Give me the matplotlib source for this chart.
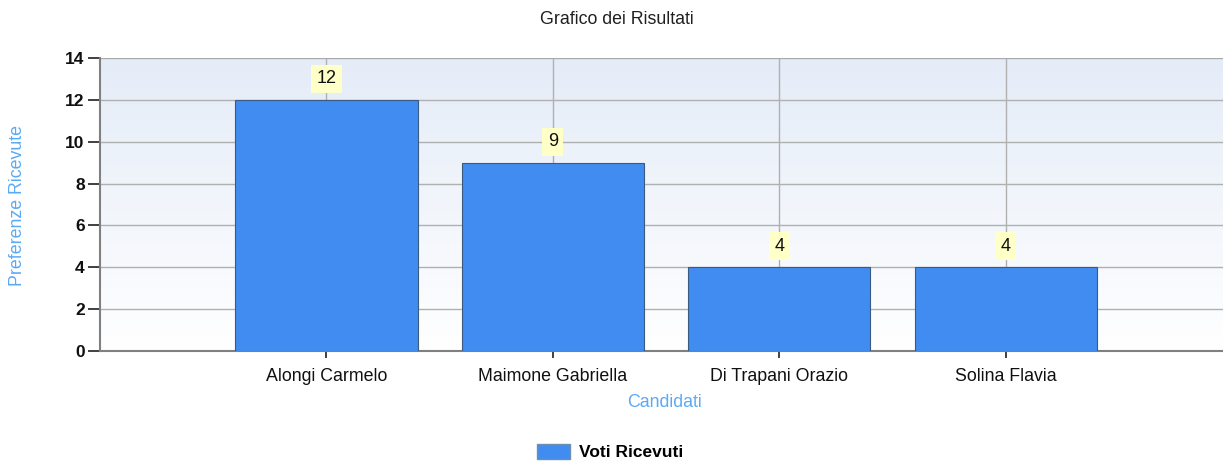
import matplotlib
matplotlib.use("Agg")
import matplotlib.pyplot as plt
import numpy as np
from matplotlib.patches import Patch

categories = ["Alongi Carmelo", "Maimone Gabriella", "Di Trapani Orazio", "Solina Flavia"]
values = [12, 9, 4, 4]
yticks = [0, 2, 4, 6, 8, 10, 12, 14]

plt.rcParams['font.family'] = ['Liberation Sans', 'DejaVu Sans']

W, H = 1223, 461
fig = plt.figure(figsize=(W / 100, H / 100), dpi=100)
ax = fig.add_axes([100 / W, 110 / H, (W - 100) / W, 293 / H])

# gradient background
grad = np.linspace(0, 1, 256).reshape(-1, 1)
top = np.array([0xE4, 0xEC, 0xF8]) / 255
bot = np.array([1.0, 1.0, 1.0])
img = top[None, None, :] * (1 - grad[:, :, None]) + bot[None, None, :] * grad[:, :, None]
ax.imshow(img, extent=[0, 1, 0, 1], transform=ax.transAxes, aspect='auto', zorder=0)

x = np.arange(1, len(categories) + 1)
ax.set_xlim(0, 4.96)
ax.set_ylim(0, 14)

bars = ax.bar(x, values, width=0.805, color='#418CF0', edgecolor='#3A5A80', linewidth=0.8,
              zorder=3, label='Voti Ricevuti')

for xi, v in zip(x, values):
    ax.text(xi, v + 1.0, str(v), ha='center', va='center', fontsize=13, color='#101010', zorder=5,
            bbox=dict(boxstyle='square,pad=0.3', facecolor='#FFFFC8', edgecolor='none'))

ax.set_xticks(x)
ax.set_xticklabels(categories, fontsize=12.8, color='#101010')
ax.set_yticks(yticks)
ax.set_yticklabels([str(t) for t in yticks], fontsize=12.5, fontweight='bold', color='#101010')
ax.tick_params(axis='y', length=9, width=1.2, color='#202020', pad=2)
ax.tick_params(axis='x', length=5, width=1.2, color='#202020', pad=7)

ax.grid(True, color='#B0B0B0', linewidth=1.0, zorder=1)
ax.set_axisbelow(True)

for s in ['top', 'right']:
    ax.spines[s].set_visible(False)
ax.spines['left'].set_color('#808080')
ax.spines['bottom'].set_color('#808080')
ax.spines['left'].set_linewidth(1.5)
ax.spines['bottom'].set_linewidth(1.5)
ax.axhline(14, color='#A8A8A8', linewidth=1.2, zorder=2)

fig.text(617 / W, 1 - 19 / H, "Grafico dei Risultati", ha='center', va='center', fontsize=12.8, color='#202020')
fig.text(18 / W, 1 - 205 / H, "Preferenze Ricevute", ha='center', va='center', rotation=90,
         fontsize=12.8, color='#5AAAF5')
fig.text(665 / W, 1 - 402 / H, "Candidati", ha='center', va='center', fontsize=12.8, color='#5AAAF5')

handle = Patch(facecolor='#418CF0', edgecolor='#7090B0', label='Voti Ricevuti')
leg = fig.legend(handles=[handle], loc='center', bbox_to_anchor=(610 / W, 1 - 452 / H), frameon=False,
                 prop={'weight': 'bold', 'size': 12.5}, handlelength=1.9, handleheight=1.0, handletextpad=0.5)

fig.savefig("out.png", dpi=100)
